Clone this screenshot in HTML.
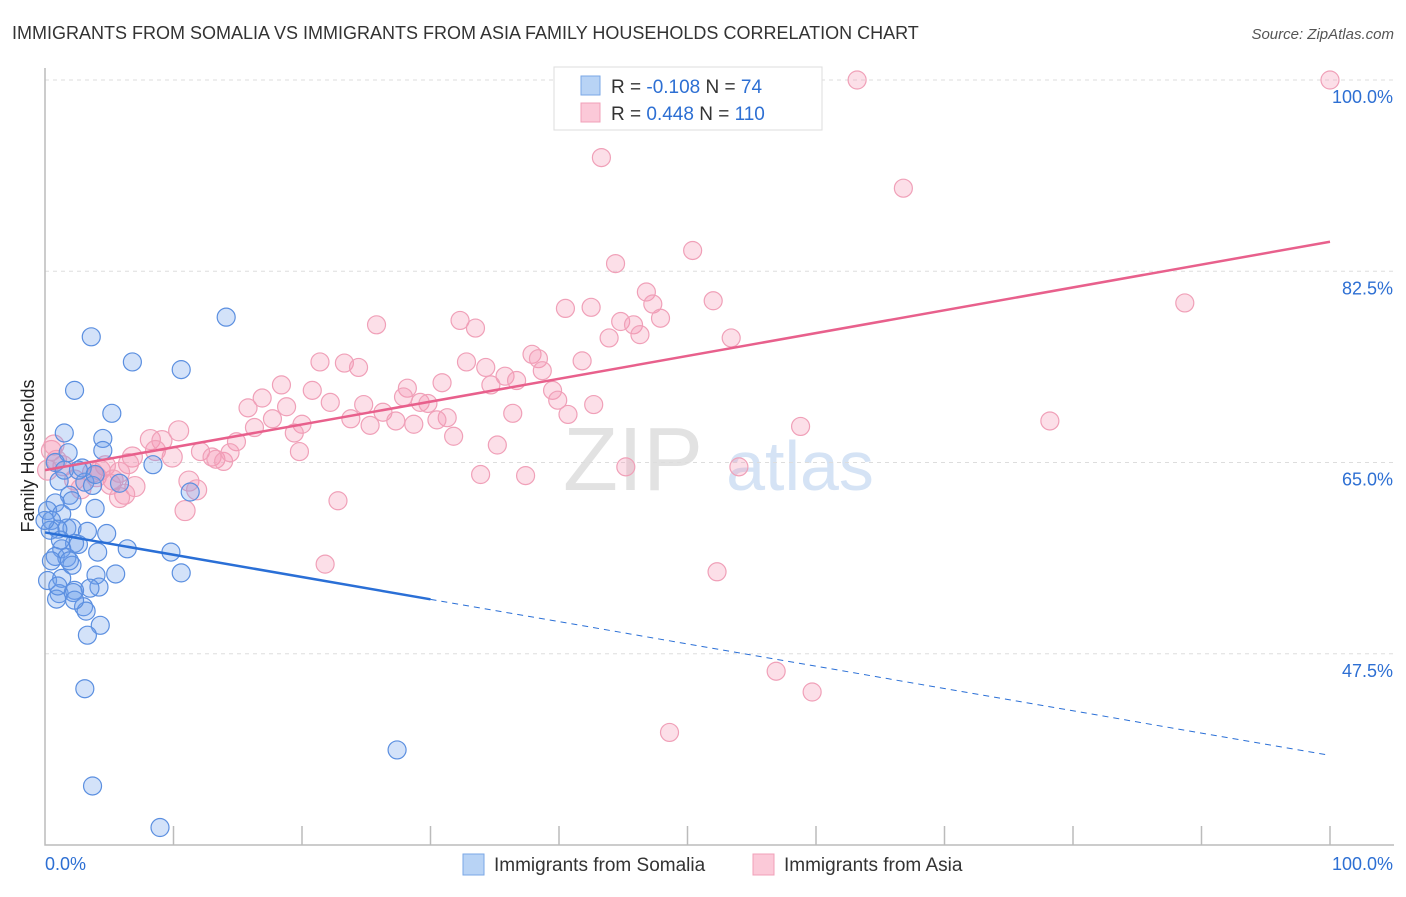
<!DOCTYPE html>
<html><head><meta charset="utf-8"><style>
body{margin:0;background:#fff;font-family:"Liberation Sans",sans-serif;}
svg text{font-family:"Liberation Sans",sans-serif;}
</style></head><body>
<svg id="chart" width="1406" height="892" xmlns="http://www.w3.org/2000/svg">
<text x="12" y="39" font-size="18" fill="#333">IMMIGRANTS FROM SOMALIA VS IMMIGRANTS FROM ASIA FAMILY HOUSEHOLDS CORRELATION CHART</text>
<text x="1394" y="39" font-size="15" fill="#555" text-anchor="end" font-style="italic">Source: ZipAtlas.com</text>
<text x="34" y="456" font-size="18" fill="#222" text-anchor="middle" transform="rotate(-90 34 456)">Family Households</text>
<g><text x="633" y="490" font-size="90" fill="#e2e2e2" text-anchor="middle" font-family="Liberation Serif">ZIP</text><text x="800" y="490" font-size="70" fill="#d5e3f5" text-anchor="middle">atlas</text></g>
<g id="grid"></g><g id="marks"></g><g id="lines"></g>
<g>
<rect x="554" y="67" width="268" height="63" fill="#fff" stroke="#ddd"/>
<rect x="581" y="76" width="19" height="19" fill="#b8d3f5" stroke="#7aa7e6"/>
<rect x="581" y="103" width="19" height="19" fill="#fbc9d8" stroke="#f0a0b8"/>
<text x="611" y="93" font-size="19" fill="#333">R = <tspan fill="#2d6fd3">-0.108</tspan>   N =  <tspan fill="#2d6fd3">74</tspan></text>
<text x="611" y="120" font-size="19" fill="#333">R =  <tspan fill="#2d6fd3">0.448</tspan>   N = <tspan fill="#2d6fd3">110</tspan></text>
</g>
<g>
<rect x="463" y="854" width="21" height="21" fill="#b8d3f5" stroke="#7aa7e6"/>
<text x="494" y="871" font-size="19" fill="#333">Immigrants from Somalia</text>
<rect x="753" y="854" width="21" height="21" fill="#fbc9d8" stroke="#f0a0b8"/>
<text x="784" y="871" font-size="19" fill="#333">Immigrants from Asia</text>
</g>
</svg>
<script>
const yTicks=[47.5,65.0,82.5,100.0];
const yTickLabels=["47.5%","65.0%","82.5%","100.0%"];
const xTickLabels=["0.0%","100.0%"];
const somaliaX=[3.6,6.8,10.6,14.1,2.3,5.2,1.5,4.5,4.5,1.8,2.9,8.4,5.8,11.3,1.1,3.1,3.7,1.9,2.1,0.8,3.9,0.2,1.3,0.5,1.7,2.1,1.0,3.3,4.8,0.4,2.3,2.6,1.3,6.4,4.1,9.8,0.8,1.7,2.1,5.5,10.6,3.97,0.2,1.3,4.2,3.5,1.1,2.3,2.2,0.9,3.0,3.2,4.3,3.3,3.1,27.4,3.7,8.95,0.8,2.6,1.5,3.9,1.9,0.5,1.0,0.0,1.2,2.3];
const somaliaY=[76.5,74.2,73.5,78.3,71.6,69.5,67.7,67.2,66.1,65.9,64.5,64.8,63.1,62.3,63.3,63.2,62.9,62.0,61.5,61.3,60.8,60.6,60.3,59.7,59.0,59.0,58.9,58.7,58.5,58.8,57.6,57.5,57.1,57.1,56.8,56.8,56.4,56.3,55.6,54.8,54.9,54.7,54.2,54.4,53.6,53.5,53.0,53.3,53.1,52.5,51.8,51.4,50.1,49.2,44.3,38.7,35.4,31.6,65.0,64.3,64.3,63.9,56.0,56.0,53.7,59.7,57.9,52.4];
const asiaX=[63.2,100,43.3,66.8,50.4,44.4,46.8,52.0,42.5,40.5,88.7,47.3,47.9,25.8,32.3,33.5,44.8,45.8,46.3,43.9,53.4,37.9,38.4,41.8,21.4,23.3,24.4,32.8,34.3,38.7,35.8,36.7,30.9,18.4,20.8,28.2,34.7,39.5,27.9,22.2,24.8,16.9,15.8,18.8,29.2,29.8,39.9,42.7,26.3,23.8,17.7,20.0,27.3,31.3,40.7,36.4,30.5,28.7,16.3,19.4,31.8,25.3,78.2,58.8,10.4,8.2,9.1,8.6,9.9,6.8,14.9,19.8,12.1,13.0,13.3,13.9,14.4,35.2,4.7,6.5,5.8,3.7,1.4,0.9,0.5,2.3,4.0,5.3,7.0,11.2,11.8,2.8,5.1,6.2,5.8,10.9,22.8,33.9,37.4,45.2,54.0,21.8,52.3,56.9,59.7,48.6,0.7,0.2,4.3];
const asiaY=[100,100,92.9,90.1,84.4,83.2,80.6,79.8,79.2,79.1,79.6,79.5,78.2,77.6,78.0,77.3,77.9,77.6,76.7,76.4,76.4,74.9,74.5,74.3,74.2,74.1,73.7,74.2,73.7,73.4,72.9,72.5,72.3,72.1,71.6,71.8,72.1,71.6,71.0,70.5,70.3,70.9,70.0,70.1,70.5,70.4,70.7,70.3,69.6,69.0,69.0,68.5,68.8,69.1,69.4,69.5,68.9,68.5,68.2,67.7,67.4,68.4,68.8,68.3,67.9,67.1,67.0,66.1,65.5,65.5,66.9,66.0,66.0,65.5,65.3,65.1,65.9,66.6,64.7,64.9,64.1,64.1,64.7,65.2,66.1,63.4,63.7,63.4,62.8,63.3,62.5,62.6,63.0,62.1,61.8,60.6,61.5,63.9,63.8,64.6,64.6,55.7,55.0,45.9,44.0,40.3,66.6,64.3,64.3];
const somaliaTrend=[58.6,38.2]; // y at x=0 and x=100
const asiaTrend=[64.3,85.2];
const somaliaSolidEnd=30;
const NS="http://www.w3.org/2000/svg";
const X0=45,X1=1330,Y0=845,Y1=80,YMIN=30,YMAX=100;
const sx=v=>X0+(X1-X0)*v/100;
const sy=v=>Y0-(Y0-Y1)*(v-YMIN)/(YMAX-YMIN);
function mk(tag,attrs,parent){const e=document.createElementNS(NS,tag);for(const k in attrs)e.setAttribute(k,attrs[k]);parent.appendChild(e);return e;}
const grid=document.getElementById('grid'),marks=document.getElementById('marks'),lines=document.getElementById('lines');
yTicks.forEach((t,i)=>{
  const l=mk('line',{x1:X0,x2:1394,y1:sy(t),y2:sy(t),stroke:'#ddd','stroke-dasharray':'4,4'},grid);
  
  
  const tx=mk('text',{x:1393,y:sy(t)+23,'font-size':18,fill:'#2d6fd3','text-anchor':'end'},grid);
  tx.textContent=yTickLabels[i];
  
  
});
const ax=mk('path',{d:`M${X0},68V${Y0}H1394`,stroke:'#bbb',fill:'none','stroke-width':1.5},grid);


for(let i=1;i<=10;i++){
  const t=mk('line',{x1:sx(i*10),x2:sx(i*10),y1:826,y2:Y0,stroke:'#bbb','stroke-width':1.5},grid);
  
  
}
const xl0=mk('text',{x:45,y:870,'font-size':18,fill:'#2d6fd3'},grid);xl0.textContent=xTickLabels[0];


const xl1=mk('text',{x:1393,y:870,'font-size':18,fill:'#2d6fd3','text-anchor':'end'},grid);xl1.textContent=xTickLabels[1];


asiaX.forEach((x,i)=>{
  const c=mk('circle',{cx:sx(x),cy:sy(asiaY[i]),r:x<12?10:9,fill:'rgba(244,150,180,0.3)',stroke:'#f0a0b8','stroke-width':1.2},marks);
  
  
});
somaliaX.forEach((x,i)=>{
  const c=mk('circle',{cx:sx(x),cy:sy(somaliaY[i]),r:9,fill:'rgba(110,160,235,0.3)',stroke:'#5b8fe0','stroke-width':1.2},marks);
  
  
});
const ty=(tr,x)=>tr[0]+(tr[1]-tr[0])*x/100;
const p=mk('line',{x1:sx(0),y1:sy(asiaTrend[0]),x2:sx(100),y2:sy(asiaTrend[1]),stroke:'#e8608c','stroke-width':2.5},lines);


const b=mk('line',{x1:sx(0),y1:sy(somaliaTrend[0]),x2:sx(somaliaSolidEnd),y2:sy(ty(somaliaTrend,somaliaSolidEnd)),stroke:'#2a6fd6','stroke-width':2.5},lines);


const bd=mk('line',{x1:sx(somaliaSolidEnd),y1:sy(ty(somaliaTrend,somaliaSolidEnd)),x2:sx(100),y2:sy(somaliaTrend[1]),stroke:'#2a6fd6','stroke-width':1,'stroke-dasharray':'6,5'},lines);


</script>
</body></html>
